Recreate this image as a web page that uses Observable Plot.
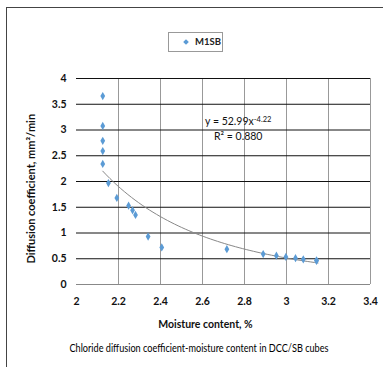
<!DOCTYPE html>
<html><head><meta charset="utf-8">
<script src="https://cdn.jsdelivr.net/npm/d3@7"></script>
<script src="https://cdn.jsdelivr.net/npm/@observablehq/plot@0.6"></script>
<style>
body{margin:0;background:#fff;}
#wrap{position:relative;width:383px;height:367px;overflow:hidden;font-family:Lato,sans-serif;}
#frame{position:absolute;left:6px;top:7px;width:400px;height:400px;border:1.5px solid #444;box-sizing:border-box;}
#legend{position:absolute;left:168px;top:32px;width:55px;height:20px;border:1px solid #999;box-sizing:border-box;font-size:9.5px;font-weight:bold;color:#222;}
#legend .m{position:absolute;left:15px;top:7px;width:4px;height:4px;background:#5b9bd5;transform:rotate(45deg);}
#legend .t{position:absolute;left:26px;top:3px;}
#caption{position:absolute;left:0;width:398px;top:342px;line-height:12px;text-align:center;font-size:10.5px;color:#000;transform:scaleX(0.87);transform-origin:199px 0;white-space:nowrap;}
#chart{position:absolute;left:0;top:0;}
</style></head>
<body>
<div id="wrap">
<div id="chart"></div>
<div id="frame"></div>
<div id="legend"><div class="m"></div><div class="t">M1SB</div></div>
<div id="caption">Chloride diffusion coefficient-moisture content in DCC/SB cubes</div>
</div>
<script>
const moisture = [2.125,2.125,2.125,2.125,2.125,2.152,2.192,2.248,2.267,2.281,2.341,2.406,2.716,2.889,2.952,2.997,3.043,3.08,3.143,3.143];
const diffusion = [3.66,3.08,2.79,2.59,2.34,1.97,1.68,1.53,1.44,1.35,0.93,0.72,0.685,0.59,0.56,0.535,0.51,0.49,0.47,0.46];
const xTicks = [2,2.2,2.4,2.6,2.8,3,3.2,3.4];
const yTicks = [0,0.5,1,1.5,2,2.5,3,3.5,4];
const trendCoef = 52.99, trendExp = -4.22;
const trendRange = [2.125, 3.15];

const pts = moisture.map((m,i)=>({x:m,y:diffusion[i]}));
const trend = d3.range(0,61).map(i=>{const x=trendRange[0]+(trendRange[1]-trendRange[0])*i/60;return {x,y:trendCoef*Math.pow(x,trendExp)};});

const chart = Plot.plot({
  width:383,height:367,
  marginLeft:76,marginRight:13,marginTop:78,marginBottom:83,
  style:{fontFamily:'Lato,sans-serif',fontSize:"10.5px",background:"transparent"},
  x:{domain:[2,3.4]},
  y:{domain:[0,4]},
  marks:[
    Plot.ruleX(xTicks.slice(1),{stroke:"#999",strokeWidth:1}),
    Plot.ruleY(yTicks.slice(1),{stroke:"#111",strokeWidth:1}),
    Plot.ruleY([0],{stroke:"#888",strokeWidth:1}),
    Plot.axisX({ticks:xTicks,tickSize:0,tickPadding:13,tickFormat:d=>String(d),fontWeight:"bold",fill:"#111",label:null}),
    Plot.axisY({ticks:yTicks,tickSize:0,tickPadding:10,tickFormat:d=>String(d),fontWeight:"bold",fill:"#111",label:null}),
    Plot.text([{x:2.614}],{x:"x",frameAnchor:"bottom",dy:40.5,lineAnchor:"middle",text:()=>"Moisture content, %",fontWeight:"bold",fontSize:10.5,fill:"#111"}),
    Plot.text([{y:1.86}],{y:"y",frameAnchor:"left",textAnchor:"middle",dx:-45,rotate:-90,text:()=>"Diffusion coefficient, mm²/min",fontWeight:"bold",fontSize:11,fill:"#111"}),
    Plot.line(trend,{x:"x",y:"y",stroke:"#888",strokeWidth:1}),
    Plot.dot(pts,{x:"x",y:"y",symbol:"diamond",r:2.5,fill:"#5b9bd5",stroke:"none"}),
    Plot.text([{x:2.77,y:3.16}],{x:"x",y:"y",text:()=>"EQ",fontSize:10.5,fill:"#111"}),
    Plot.text([{x:2.77,y:2.88}],{x:"x",y:"y",text:()=>"R² = 0.880",fontSize:10.5,fill:"#111"})
  ]
});
document.getElementById("chart").appendChild(chart);
d3.select(chart).selectAll("text").filter(function(){return this.textContent==="EQ";}).each(function(){
  const t=d3.select(this); t.text("");
  t.append("tspan").text("y = "+trendCoef+"x");
  t.append("tspan").attr("dy","-0.45em").attr("font-size","7.5px").text(String(trendExp));
});
</script>
</body></html>
